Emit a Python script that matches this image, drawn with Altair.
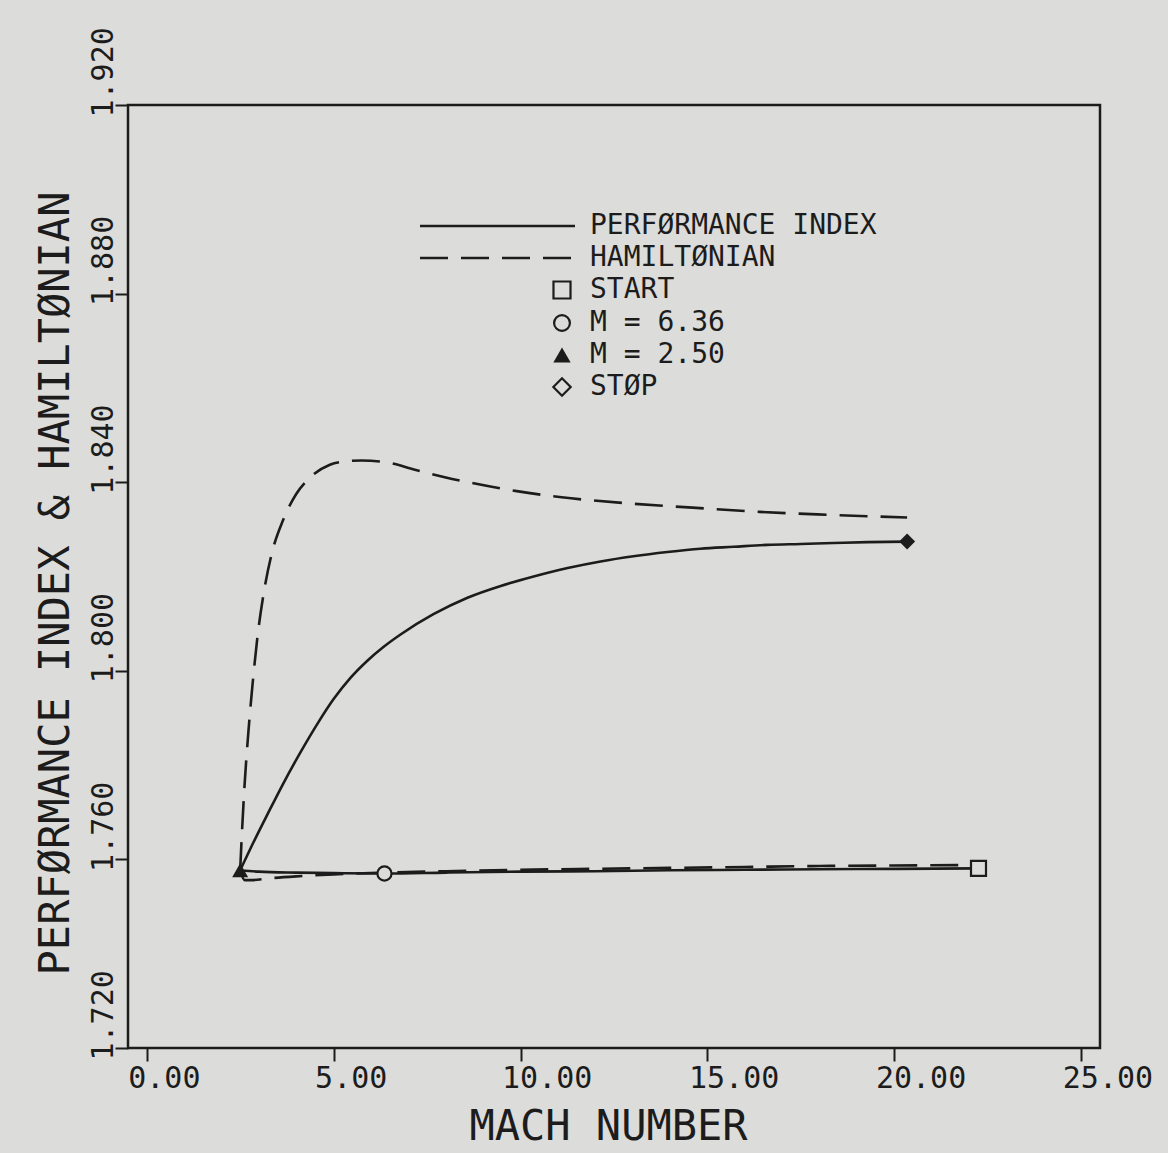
import altair as alt
import pandas as pd

FONT = "DejaVu Sans Mono"
INK = "#1c1c1c"
BG = "#dcdcda"

# ---- data (trajectory order: START -> M=2.50 -> STOP) ----
mach_pi = [22.25, 20.0, 18.0, 16.0, 14.0, 12.0, 10.0, 8.0, 6.36, 5.0, 4.0, 3.0, 2.5,
           2.83, 3.24, 3.66, 4.12, 4.57, 5.00, 5.45, 5.91, 6.34, 6.79, 7.67, 8.58,
           9.47, 10.35, 11.26, 12.14, 13.02, 13.93, 14.81, 15.70, 16.60, 17.49,
           18.37, 19.28, 20.34]
perf_index = [1.7581, 1.7580, 1.7579, 1.7578, 1.7577, 1.7575, 1.7574, 1.7572, 1.7570,
              1.7571, 1.7572, 1.7574, 1.7577,
              1.7632, 1.7697, 1.7762, 1.7828, 1.7888, 1.7940, 1.7985, 1.8022, 1.8051,
              1.8077, 1.8120, 1.8155, 1.8180, 1.8200, 1.8218, 1.8232, 1.8243, 1.8252,
              1.8259, 1.8263, 1.8267, 1.8269, 1.8271, 1.8273, 1.8274]

mach_h = [22.25, 20.0, 18.0, 16.0, 14.0, 12.0, 10.0, 8.0, 6.36, 5.0, 4.0, 3.3, 2.8,
          2.62, 2.5, 2.55, 2.62, 2.72, 2.83, 2.96, 3.12, 3.35, 3.65, 4.0, 4.4, 4.9,
          5.3, 5.75, 6.35, 7.2, 8.0, 8.6, 9.9, 11.1, 12.9, 14.6, 16.4, 18.2, 20.34]
hamiltonian = [1.7588, 1.7587, 1.7586, 1.7584, 1.7582, 1.7580, 1.7578, 1.7575, 1.7572,
               1.7568, 1.7564, 1.7560, 1.7556, 1.7556, 1.7577,
               1.7660, 1.7760, 1.7870, 1.7970, 1.8070, 1.8160, 1.8250, 1.8320, 1.8375,
               1.8412, 1.8437, 1.8444, 1.8446, 1.8443, 1.8426, 1.8410, 1.8400, 1.8381,
               1.8368, 1.8355, 1.8346, 1.8337, 1.8331, 1.8325]

marker_mach = [22.25, 6.36, 2.5, 20.34]
marker_value = [1.7581, 1.7570, 1.7577, 1.8274]
marker_name = ["START", "M = 6.36", "M = 2.50", "STOP"]

x_ticks = [0, 5, 10, 15, 20, 25]
y_ticks = [1.72, 1.76, 1.80, 1.84, 1.88, 1.92]

legend_line_labels = ["PERFØRMANCE INDEX", "HAMILTØNIAN"]
legend_marker_labels = ["START", "M = 6.36", "M = 2.50", "STØP"]


# ---- tables: split each trajectory at the turning point (M = 2.50) ----
def branches(mach, vals):
    turn = mach.index(min(mach))
    out = pd.DataFrame({"mach": mach[:turn + 1], "value": vals[:turn + 1], "branch": "out"})
    back = pd.DataFrame({"mach": mach[turn:], "value": vals[turn:], "branch": "back"})
    return pd.concat([out, back], ignore_index=True)


pi_df = branches(mach_pi, perf_index)
h_df = branches(mach_h, hamiltonian)
mk_df = pd.DataFrame({"mach": marker_mach, "value": marker_value, "name": marker_name})

x_scale = alt.Scale(domain=[-0.5, 25.5], nice=False, zero=False)
y_scale = alt.Scale(domain=[1.72, 1.92], nice=False, zero=False)

x_axis = alt.Axis(
    values=x_ticks, format=".2f", title="MACH NUMBER", grid=False, domain=False,
    labelFont=FONT, labelFontSize=30, labelColor=INK, labelAlign="left",
    labelBaseline="top", labelOffset=-19, labelPadding=2, labelFlush=False,
    labelOverlap=False, tickSize=13, tickWidth=2, tickColor=INK,
    titleFont=FONT, titleFontSize=42, titleFontWeight="normal", titleColor=INK,
    titleX=480, titleY=91, titleAlign="center", titleBaseline="alphabetic",
)
y_axis = alt.Axis(
    values=y_ticks, format=".3f", title="PERFØRMANCE INDEX & HAMILTØNIAN", grid=False,
    domain=False, labelFont=FONT, labelFontSize=30, labelColor=INK, labelAngle=270,
    labelAlign="left", labelBaseline="middle", labelOffset=12, labelPadding=12,
    labelFlush=False, labelOverlap=False, tickSize=13, tickWidth=2, tickColor=INK,
    titleFont=FONT, titleFontSize=42, titleFontWeight="normal", titleColor=INK,
    titleAngle=270, titleX=-73, titleY=478, titleAlign="center", titleBaseline="middle",
)

X = alt.X("mach:Q", scale=x_scale, axis=x_axis)
Y = alt.Y("value:Q", scale=y_scale, axis=y_axis)

pi_line = alt.Chart(pi_df).mark_line(
    color=INK, strokeWidth=2.6, interpolate="monotone"
).encode(x=X, y=Y, detail="branch:N", order=alt.Order("mach:Q"))

h_line = alt.Chart(h_df).mark_line(
    color=INK, strokeWidth=2.6, strokeDash=[28, 13], interpolate="monotone"
).encode(x=alt.X("mach:Q", scale=x_scale), y=alt.Y("value:Q", scale=y_scale),
         detail="branch:N", order=alt.Order("mach:Q"))


def pt(df, shape, size, filled):
    return alt.Chart(df).mark_point(
        shape=shape, size=size, filled=filled, color=INK, strokeWidth=2.2,
        opacity=1, fill=INK if filled else BG
    ).encode(x=alt.X("mach:Q", scale=x_scale), y=alt.Y("value:Q", scale=y_scale))


m_start = pt(mk_df[mk_df.name == "START"], "square", 225, False)
m_circ = pt(mk_df[mk_df.name == "M = 6.36"], "circle", 200, False)
m_tri = pt(mk_df[mk_df.name == "M = 2.50"], "triangle-up", 256, True)
m_stop = pt(mk_df[mk_df.name == "STOP"], "diamond", 256, True)

layers = [pi_line, h_line, m_start, m_circ, m_tri, m_stop]

# ---- in-plot legend (pixel positions relative to plot origin) ----
line_y = [121, 153]
for i, lab in enumerate(legend_line_labels):
    kw = dict(color=INK, strokeWidth=2.6)
    if i == 1:
        kw["strokeDash"] = [28, 13]
    layers.append(alt.Chart(pd.DataFrame({"label": [lab]})).mark_rule(**kw).encode(
        x=alt.value(292), x2=alt.value(447), y=alt.value(line_y[i])))
    layers.append(alt.Chart(pd.DataFrame({"label": [lab]})).mark_text(
        font=FONT, fontSize=28, color=INK, align="left", baseline="middle"
    ).encode(x=alt.value(462), y=alt.value(line_y[i]), text="label:N"))

mk_y = [185, 218, 250, 282]
mk_shapes = [("square", 290, False), ("circle", 250, False),
             ("triangle-up", 300, True), ("diamond", 300, False)]
for i, lab in enumerate(legend_marker_labels):
    shp, sz, fl = mk_shapes[i]
    layers.append(alt.Chart(pd.DataFrame({"label": [lab]})).mark_point(
        shape=shp, size=sz, filled=fl, color=INK, strokeWidth=2.2, opacity=1,
        fill=INK if fl else BG
    ).encode(x=alt.value(434), y=alt.value(mk_y[i])))
    layers.append(alt.Chart(pd.DataFrame({"label": [lab]})).mark_text(
        font=FONT, fontSize=28, color=INK, align="left", baseline="middle"
    ).encode(x=alt.value(462), y=alt.value(mk_y[i]), text="label:N"))

chart = alt.layer(*layers).properties(
    width=972, height=943,
    background=BG,
    padding={"left": 128, "top": 105, "right": 68, "bottom": 105},
    autosize=alt.AutoSizeParams(type="none"),
).configure_view(stroke=INK, strokeWidth=2.5)

chart.save("out.html", embed_options={"renderer": "svg", "actions": False})
